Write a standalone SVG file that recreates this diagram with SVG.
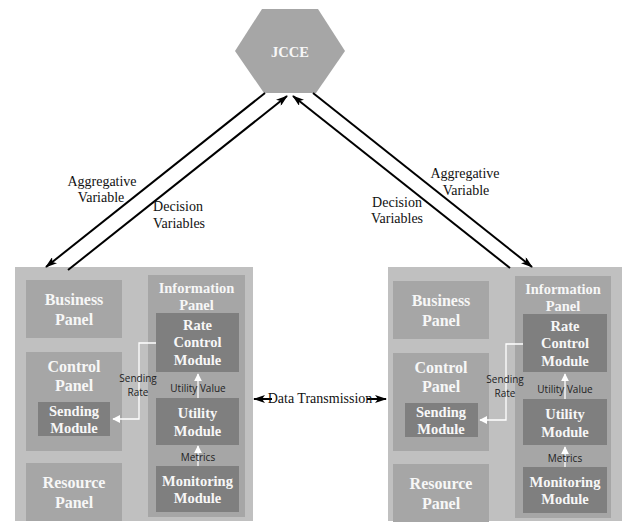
<svg xmlns="http://www.w3.org/2000/svg" width="629" height="526" viewBox="0 0 629 526">
<style>
.outer{fill:#c0c0c0}
.panel{fill:#a6a6a6}
.module{fill:#7f7f7f}
.pt{font-weight:bold;font-size:16px;fill:#f7f7f7;text-anchor:middle}
.mt{font-weight:bold;font-size:14.5px;fill:#f7f7f7;text-anchor:middle}
.lbl{font-size:14px;fill:#111;text-anchor:middle}
.sm{font-size:10px;fill:#222;text-anchor:middle}
.blk{stroke:#000;stroke-width:2;fill:none}
.wht{stroke:#fff;stroke-width:1.3;fill:none}
</style>
<defs>
<marker id="ab" viewBox="0 0 12 8" refX="11" refY="4" markerWidth="6" markerHeight="4" orient="auto" markerUnits="strokeWidth">
<path d="M0,0 L12,4 L0,8 L3,4 z" fill="#000"/>
</marker>
<marker id="aw" viewBox="0 0 10 10" refX="9" refY="5" markerWidth="6" markerHeight="6" orient="auto" markerUnits="strokeWidth">
<path d="M0,0 L10,5 L0,10 z" fill="#fff"/>
</marker>
</defs>
<rect width="629" height="526" fill="#fff"/>

<g font-family="Liberation Serif, DejaVu Serif, serif">
<g id="jcce">
<polygon points="262,9 318,9 345,51 316,93 264,93 235,51" fill="#a6a6a6"/>
<text x="290" y="57" class="mt" font-size="14px">JCCE</text>
</g>

<g id="left-system">
<rect class="outer" x="15" y="267" width="238" height="254"/>
</g>
<g id="left-business"><rect class="panel" x="26" y="280" width="96" height="58"/>
<text class="pt" x="74" y="305">Business</text><text class="pt" x="74" y="325">Panel</text></g>
<g id="left-control"><rect class="panel" x="26" y="352" width="96" height="99"/>
<text class="pt" x="74" y="372">Control</text><text class="pt" x="74" y="391">Panel</text></g>
<g id="left-sending"><rect class="module" x="38" y="402" width="72" height="34"/>
<text class="mt" x="74" y="416">Sending</text><text class="mt" x="74" y="433">Module</text></g>
<g id="left-resource"><rect class="panel" x="26" y="463" width="96" height="58"/>
<text class="pt" x="74" y="488">Resource</text><text class="pt" x="74" y="508">Panel</text></g>
<g id="left-information"><rect class="panel" x="148" y="275" width="97" height="242"/>
<text class="mt" x="196.5" y="293">Information</text><text class="mt" x="196.5" y="310">Panel</text></g>
<g id="left-rate"><rect class="module" x="156" y="313" width="83" height="59"/>
<text class="mt" x="197.5" y="330">Rate</text><text class="mt" x="197.5" y="347">Control</text><text class="mt" x="197.5" y="365">Module</text></g>
<g id="left-utility"><rect class="module" x="156" y="398" width="83" height="47"/>
<text class="mt" x="197.5" y="418">Utility</text><text class="mt" x="197.5" y="436">Module</text></g>
<g id="left-monitoring"><rect class="module" x="156" y="466" width="83" height="46"/>
<text class="mt" x="197.5" y="486">Monitoring</text><text class="mt" x="197.5" y="503">Module</text></g>

<g id="right-system">
<rect class="outer" x="388" y="267" width="234" height="254"/>
</g>
<g id="right-business"><rect class="panel" x="393" y="281" width="96" height="58"/>
<text class="pt" x="441" y="306">Business</text><text class="pt" x="441" y="326">Panel</text></g>
<g id="right-control"><rect class="panel" x="393" y="353" width="96" height="98"/>
<text class="pt" x="441" y="373">Control</text><text class="pt" x="441" y="392">Panel</text></g>
<g id="right-sending"><rect class="module" x="405" y="403" width="73" height="34"/>
<text class="mt" x="441" y="417">Sending</text><text class="mt" x="441" y="434">Module</text></g>
<g id="right-resource"><rect class="panel" x="393" y="464" width="96" height="58"/>
<text class="pt" x="441" y="489">Resource</text><text class="pt" x="441" y="509">Panel</text></g>
<g id="right-information"><rect class="panel" x="515" y="276" width="96" height="242"/>
<text class="mt" x="563" y="294">Information</text><text class="mt" x="563" y="311">Panel</text></g>
<g id="right-rate"><rect class="module" x="523" y="314" width="84" height="58"/>
<text class="mt" x="565" y="331">Rate</text><text class="mt" x="565" y="348">Control</text><text class="mt" x="565" y="366">Module</text></g>
<g id="right-utility"><rect class="module" x="523" y="399" width="84" height="46"/>
<text class="mt" x="565" y="419">Utility</text><text class="mt" x="565" y="437">Module</text></g>
<g id="right-monitoring"><rect class="module" x="523" y="467" width="84" height="46"/>
<text class="mt" x="565" y="487">Monitoring</text><text class="mt" x="565" y="504">Module</text></g>

<g id="connectors">
<line class="blk" x1="265" y1="93" x2="46" y2="267" marker-end="url(#ab)"/>
<line class="blk" x1="68" y1="270" x2="287" y2="96" marker-end="url(#ab)"/>
<line class="blk" x1="313" y1="93" x2="532" y2="267" marker-end="url(#ab)"/>
<line class="blk" x1="510" y1="268" x2="293" y2="96" marker-end="url(#ab)"/>
<line class="blk" x1="272" y1="399" x2="254" y2="399" marker-end="url(#ab)"/>
<line class="blk" x1="367" y1="399" x2="386" y2="399" marker-end="url(#ab)"/>

<polyline class="wht" points="156,343 139,343 139,419 113,419" marker-end="url(#aw)"/>
<line class="wht" x1="198" y1="398" x2="198" y2="374" marker-end="url(#aw)"/>
<line class="wht" x1="198" y1="466" x2="198" y2="446" marker-end="url(#aw)"/>
<polyline class="wht" points="523,344 506,344 506,420 480,420" marker-end="url(#aw)"/>
<line class="wht" x1="565" y1="399" x2="565" y2="374" marker-end="url(#aw)"/>
<line class="wht" x1="565" y1="467" x2="565" y2="447" marker-end="url(#aw)"/>
</g>

<g id="labels">
<text class="lbl" x="102" y="186">Aggregative</text>
<text class="lbl" x="101" y="202">Variable</text>
<text class="lbl" x="178" y="211">Decision</text>
<text class="lbl" x="179" y="228">Variables</text>
<text class="lbl" x="465" y="178">Aggregative</text>
<text class="lbl" x="466" y="195">Variable</text>
<text class="lbl" x="397" y="207">Decision</text>
<text class="lbl" x="397" y="223">Variables</text>
<text class="lbl" x="320" y="403" font-size="12.5px">Data Transmission</text>
<g font-family="Open Sans, DejaVu Sans, sans-serif">
<text class="sm" x="138" y="382">Sending</text>
<text class="sm" x="138" y="396">Rate</text>
<text class="sm" x="198" y="392">Utility Value</text>
<text class="sm" x="198" y="461">Metrics</text>
<text class="sm" x="505" y="383">Sending</text>
<text class="sm" x="505" y="397">Rate</text>
<text class="sm" x="565" y="393">Utility Value</text>
<text class="sm" x="565" y="462">Metrics</text>
</g>
</g>
</g>
</svg>
